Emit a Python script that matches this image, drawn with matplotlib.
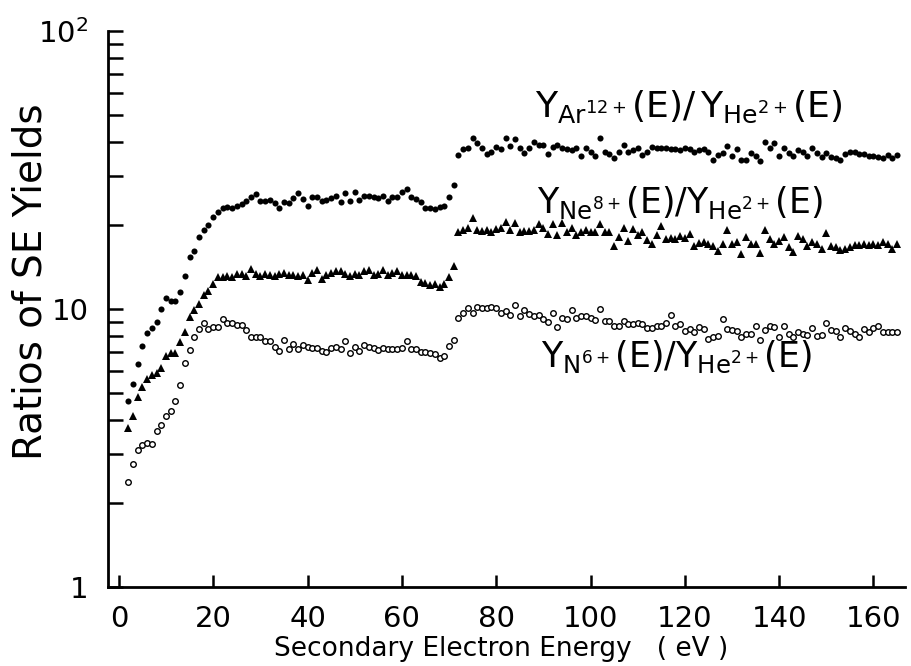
import matplotlib
matplotlib.use('Agg')
import matplotlib.pyplot as plt
import numpy as np

plt.rcParams['font.family'] = 'DejaVu Sans'
plt.rcParams['mathtext.default'] = 'regular'

# energy grid (eV), low and high segment
e_low = np.arange(2, 72)
e_high = np.arange(72, 166)

# Y(Ar12+)/Y(He2+)
ar_low = [4.67, 5.36, 6.33, 7.37, 8.19, 8.52, 9.0, 10.0, 11.0, 10.7,
          10.7, 11.5, 13.2, 15.4, 16.2, 18.2, 19.3, 20.1, 21.4, 22.3,
          23.1, 23.3, 23.0, 23.5, 23.9, 24.4, 25.3, 26.0, 24.4, 24.4,
          24.6, 24.0, 23.0, 24.2, 24.0, 25.0, 26.2, 24.8, 23.5, 25.3,
          25.3, 24.4, 24.7, 25.0, 25.6, 24.3, 26.2, 24.5, 26.3, 24.7,
          25.5, 25.6, 25.2, 25.0, 25.5, 24.4, 25.2, 25.2, 26.3, 27.0,
          25.2, 24.8, 24.3, 23.0, 23.0, 22.9, 23.3, 23.5, 25.3, 28.0]
ar_high = [35.9, 37.5, 38.1, 41.1, 39.4, 37.9, 36.1, 36.8, 38.4, 37.5,
           41.4, 38.5, 40.8, 37.9, 36.3, 37.9, 40.0, 39.0, 38.8, 36.1,
           38.4, 38.8, 38.1, 37.5, 37.2, 37.8, 35.6, 37.9, 36.8, 35.6,
           41.1, 36.8, 36.0, 34.8, 36.8, 38.8, 36.8, 37.2, 37.8, 35.8,
           36.8, 38.4, 38.0, 37.8, 37.8, 37.5, 37.5, 37.2, 37.9, 37.5,
           36.8, 37.2, 37.5, 36.8, 34.3, 35.9, 36.3, 38.6, 35.6, 37.5,
           34.3, 34.5, 36.5, 35.5, 34.0, 40.0, 37.8, 39.4, 35.6, 37.9,
           36.5, 35.6, 37.2, 36.8, 35.6, 37.9, 36.4, 35.3, 36.5, 35.3,
           35.0, 34.5, 36.0, 36.8, 36.6, 36.2, 36.0, 35.6, 35.6, 35.2,
           35.0, 35.9, 34.8, 35.9]

# Y(Ne8+)/Y(He2+)
ne_low = [3.74, 4.12, 4.84, 5.26, 5.59, 5.78, 5.87, 6.16, 6.75, 6.94,
          6.94, 7.62, 8.24, 9.33, 9.9, 10.4, 11.2, 11.6, 12.3, 13.0,
          13.0, 13.2, 13.0, 13.4, 13.4, 13.2, 13.9, 13.4, 13.2, 13.4,
          13.3, 13.2, 13.4, 13.5, 13.3, 13.3, 13.2, 13.3, 12.7, 13.5,
          13.8, 12.8, 13.3, 13.5, 13.7, 13.7, 13.4, 13.1, 13.4, 13.3,
          13.7, 13.8, 13.3, 13.4, 13.8, 13.3, 13.5, 13.7, 13.3, 13.3,
          13.3, 13.2, 12.5, 12.4, 12.2, 12.3, 12.05, 12.3, 13.0, 14.3]
ne_high = [18.9, 19.3, 19.6, 21.2, 19.2, 19.1, 19.2, 19.0, 19.4, 19.6,
           20.6, 19.2, 20.4, 19.0, 19.1, 19.1, 19.3, 20.3, 19.6, 18.6,
           20.2, 18.4, 20.4, 19.0, 19.6, 18.4, 19.0, 19.3, 19.0, 19.0,
           20.3, 19.0, 18.9, 16.9, 18.1, 19.5, 17.5, 19.4, 18.5, 18.9,
           17.7, 17.2, 18.4, 19.9, 17.8, 18.0, 17.8, 18.3, 18.0, 18.6,
           16.8, 17.3, 17.4, 17.2, 16.9, 16.2, 17.1, 19.2, 17.2, 17.4,
           15.8, 18.2, 17.2, 17.1, 15.9, 19.2, 17.9, 17.2, 17.6, 18.1,
           16.7, 16.0, 18.3, 17.8, 16.8, 17.4, 17.2, 16.4, 18.8, 16.9,
           16.7, 16.3, 16.5, 16.7, 17.0, 17.0, 17.2, 17.0, 17.2, 17.0,
           17.4, 17.1, 16.5, 17.1]

# Y(N6+)/Y(He2+)
n_low = [2.38, 2.76, 3.12, 3.23, 3.30, 3.28, 3.64, 3.84, 4.12, 4.29,
         4.67, 5.32, 6.38, 7.1, 7.9, 8.47, 8.9, 8.51, 8.65, 8.65,
         9.2, 8.9, 8.9, 8.75, 8.75, 8.4, 7.9, 7.95, 7.95, 7.68,
         7.68, 7.3, 7.04, 7.75, 7.2, 7.47, 7.17, 7.4, 7.3, 7.27,
         7.27, 7.07, 7.0, 7.27, 7.33, 7.17, 7.68, 6.94, 7.33, 7.07,
         7.4, 7.33, 7.27, 7.13, 7.27, 7.2, 7.2, 7.2, 7.27, 7.68,
         7.2, 7.17, 7.0, 7.0, 6.94, 6.88, 6.65, 6.79, 7.37, 7.75]
n_high = [9.3, 9.7, 10.1, 9.7, 10.2, 10.1, 10.1, 10.2, 10.1, 9.7,
          9.8, 9.5, 10.3, 9.45, 9.9, 9.6, 9.4, 9.5, 9.2, 9.0,
          9.65, 8.6, 9.3, 9.2, 9.9, 9.3, 9.4, 9.4, 9.3, 9.1,
          10.0, 9.06, 9.06, 8.7, 8.7, 9.06, 8.8, 8.85, 8.9, 8.8,
          8.55, 8.55, 8.7, 8.7, 8.9, 9.5, 8.7, 8.8, 8.35, 8.45,
          8.3, 8.6, 8.5, 7.8, 7.9, 8.0, 9.2, 8.5, 8.4, 8.35,
          7.95, 8.1, 8.15, 8.7, 7.75, 8.4, 8.7, 8.6, 7.95, 8.7,
          8.1, 7.9, 8.3, 8.1, 8.05, 8.55, 8.0, 8.05, 8.9, 8.4,
          8.35, 7.95, 8.55, 8.35, 8.15, 7.95, 8.5, 8.3, 8.55, 8.7,
          8.3, 8.3, 8.3, 8.3]

x_ticks = [0, 20, 40, 60, 80, 100, 120, 140, 160]

fig = plt.figure(figsize=(9.11, 6.66), dpi=100)
ax = fig.add_axes([0.1186, 0.1186, 0.8749, 0.8348])

energy = np.concatenate((e_low, e_high))
ax.plot(energy, ar_low + ar_high, 'o', color='black', ms=4.4, mew=0)
ax.plot(energy, ne_low + ne_high, '^', color='black', ms=5.4, mew=0)
ax.plot(energy, n_low + n_high, 'o', mfc='white', mec='black', ms=4.0, mew=1.0)

ax.set_yscale('log')
ax.set_ylim(1, 100)
ax.set_xlim(-2.3, 166.7)
ax.spines['top'].set_visible(False)
ax.spines['right'].set_visible(False)
ax.spines['left'].set_linewidth(2)
ax.spines['bottom'].set_linewidth(2)

ax.set_xticks(x_ticks)
ax.set_xticklabels([str(t) for t in x_ticks])
ax.set_yticks([1, 10, 100])
ax.set_yticklabels(['1', '10', '$10^2$'])
ax.tick_params(axis='both', which='both', direction='in', width=1.8, color='black')
ax.tick_params(axis='x', which='major', length=9, labelsize=21, pad=13)
ax.tick_params(axis='y', which='major', length=11, labelsize=21, pad=14)
ax.tick_params(axis='y', which='minor', length=11)
ax.yaxis.set_minor_formatter(matplotlib.ticker.NullFormatter())

# axis titles placed directly to fit the figure
fig.text(0.55, 0.026, 'Secondary Electron Energy   ( eV )', fontsize=19,
         ha='center', va='center')
fig.text(0.034, 0.577, 'Ratios of SE Yields', fontsize=28, rotation=90,
         ha='center', va='center')

fig.text(0.756, 0.839, r'$Y_{Ar^{12+}}(E)/\,Y_{He^{2+}}(E)$', fontsize=26,
         ha='center', va='center')
fig.text(0.746, 0.695, r'$Y_{Ne^{8+}}(E)/Y_{He^{2+}}(E)$', fontsize=25,
         ha='center', va='center')
fig.text(0.742, 0.464, r'$Y_{N^{6+}}(E)/Y_{He^{2+}}(E)$', fontsize=25,
         ha='center', va='center')

plt.savefig('out.png', dpi=100)
